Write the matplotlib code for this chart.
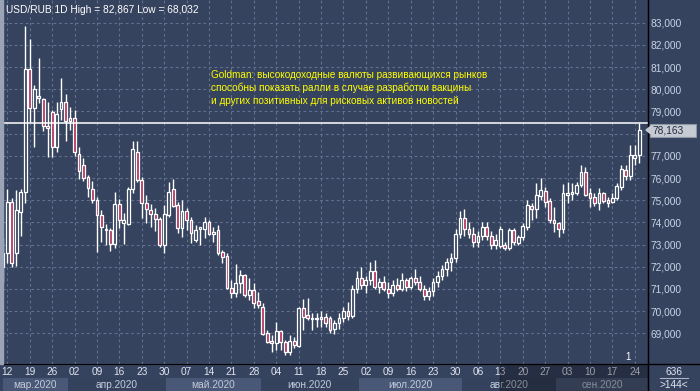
import numpy as np
import pandas as pd
import matplotlib
matplotlib.use('Agg')
import matplotlib.pyplot as plt
from matplotlib.patches import Rectangle, Polygon
from matplotlib.lines import Line2D

# daily USD/RUB candles, 11 Mar - 25 Sep 2020 (one row per week)
opens = [
    72.00, 72.61, 74.91,
    72.61, 74.48, 75.38, 80.91, 79.14,
    79.59, 79.56, 78.34, 78.99, 77.41,
    79.10, 79.41, 78.57, 78.69, 77.07,
    76.60, 76.05, 75.49, 75.01, 74.33,
    73.65, 73.65, 73.03, 74.82, 73.96,
    73.91, 75.51, 77.16, 75.91, 74.86,
    74.56, 74.37, 74.14, 72.98, 74.33,
    75.49, 74.78, 73.73, 74.53, 74.11,
    73.21, 73.69, 73.69, 74.00, 73.46,
    73.66, 72.68, 72.49, 71.03, 70.83,
    71.26, 71.63, 70.73, 70.96, 70.46,
    70.20, 69.00, 68.67, 68.55, 69.11,
    68.62, 68.17, 68.67, 68.45, 70.16,
    69.83, 69.66, 69.70, 69.66, 69.75,
    69.68, 69.20, 69.45, 69.70, 70.00,
    69.80, 71.00, 71.50, 71.20, 71.40,
    71.80, 71.10, 71.30, 71.00, 70.80,
    71.20, 71.00, 71.40, 71.10, 71.50,
    71.30, 71.00, 70.70, 70.90, 71.30,
    71.60, 71.90, 72.20, 72.40, 73.50,
    74.20, 73.70, 73.50, 73.10, 73.40,
    73.80, 73.40, 73.00, 72.95, 73.00,
    72.83, 73.66, 73.09, 73.33, 73.81,
    74.75, 74.59, 75.19, 75.43, 74.96,
    74.11, 73.96, 73.69, 75.25, 75.28,
    75.34, 75.69, 76.29, 75.31, 75.16,
    74.89, 75.31, 75.01, 74.93, 75.09,
    75.61, 76.36, 76.09, 76.90, 77.02,
]
highs = [
    73.30, 75.49, 75.09,
    75.46, 75.51, 82.87, 82.27, 80.19,
    81.42, 79.62, 79.41, 79.07, 79.41,
    80.52, 79.80, 79.21, 79.07, 77.41,
    76.90, 76.14, 75.88, 75.16, 74.57,
    73.93, 73.73, 75.38, 75.05, 74.41,
    75.61, 77.68, 77.68, 76.03, 75.24,
    74.83, 74.64, 74.26, 74.78, 75.83,
    75.94, 74.93, 75.01, 74.64, 74.26,
    73.88, 73.81, 74.26, 74.11, 73.81,
    73.88, 72.76, 72.61, 71.40, 72.13,
    71.86, 71.67, 71.48, 71.26, 70.88,
    70.35, 69.15, 68.93, 69.53, 69.15,
    68.70, 68.93, 68.85, 70.20, 70.54,
    70.58, 69.90, 69.90, 70.00, 69.90,
    69.80, 69.60, 69.90, 70.20, 70.40,
    71.20, 71.80, 72.00, 71.60, 72.20,
    72.30, 71.50, 71.60, 71.30, 71.40,
    71.50, 71.70, 71.50, 71.60, 71.90,
    71.60, 71.20, 71.10, 71.50, 71.80,
    72.10, 72.40, 72.60, 73.70, 74.50,
    74.60, 74.00, 73.80, 73.60, 74.00,
    74.00, 73.60, 73.50, 73.85, 73.10,
    73.73, 73.73, 73.43, 73.96, 75.01,
    74.86, 75.76, 75.99, 75.58, 75.09,
    74.71, 74.03, 75.73, 75.83, 75.76,
    75.83, 76.59, 76.51, 75.54, 75.31,
    75.54, 75.38, 75.16, 75.31, 75.76,
    76.59, 76.59, 77.49, 77.50, 78.49,
]
lows = [
    71.30, 72.16, 72.00,
    72.03, 73.39, 74.86, 78.54, 77.41,
    79.37, 78.13, 76.96, 76.96, 77.19,
    78.62, 77.67, 78.16, 77.00, 75.95,
    75.88, 75.16, 74.89, 72.68, 73.13,
    72.97, 72.73, 72.83, 73.73, 73.03,
    73.88, 75.31, 75.81, 74.19, 73.96,
    73.81, 73.63, 72.90, 72.61, 74.23,
    74.68, 73.54, 73.33, 73.66, 73.09,
    73.13, 72.98, 73.28, 73.43, 73.13,
    72.53, 72.18, 70.99, 70.58, 70.63,
    70.81, 70.65, 70.50, 70.13, 70.13,
    68.93, 68.55, 68.17, 68.25, 68.25,
    68.03, 68.03, 68.33, 68.40, 69.15,
    69.60, 69.15, 69.30, 69.30, 69.30,
    69.00, 68.95, 69.20, 69.50, 69.60,
    69.70, 70.80, 71.00, 70.80, 71.20,
    71.00, 70.80, 70.90, 70.60, 70.70,
    70.90, 70.90, 70.90, 71.00, 71.20,
    70.90, 70.50, 70.50, 70.70, 71.10,
    71.40, 71.60, 71.80, 72.20, 73.30,
    73.40, 73.30, 72.90, 72.90, 73.20,
    73.20, 72.80, 72.80, 72.85, 72.75,
    72.76, 72.98, 72.98, 73.21, 73.66,
    74.11, 74.19, 75.01, 74.71, 73.99,
    73.58, 73.33, 73.51, 74.86, 75.01,
    75.24, 75.58, 75.19, 74.68, 74.74,
    74.56, 74.89, 74.68, 74.86, 75.01,
    75.46, 75.91, 75.91, 76.60, 76.66,
]
closes = [
    72.60, 74.93, 72.18,
    74.56, 75.38, 80.91, 79.14, 80.01,
    79.71, 78.34, 78.27, 77.41, 78.87,
    79.41, 78.57, 78.69, 77.19, 76.30,
    76.02, 75.53, 75.01, 74.33, 73.78,
    73.70, 73.03, 74.82, 74.11, 74.11,
    75.51, 77.29, 75.91, 74.86, 74.59,
    74.37, 74.14, 72.98, 74.37, 75.38,
    74.74, 73.73, 74.53, 74.11, 73.51,
    73.66, 73.78, 74.00, 73.46, 73.58,
    72.61, 72.45, 71.03, 70.83, 71.26,
    71.63, 70.73, 70.96, 70.35, 70.28,
    68.97, 68.62, 68.55, 69.11, 68.62,
    68.17, 68.67, 68.48, 70.16, 69.75,
    69.68, 69.70, 69.66, 69.72, 69.45,
    69.15, 69.45, 69.70, 70.00, 69.80,
    71.00, 71.50, 71.20, 71.40, 71.80,
    71.10, 71.30, 71.00, 70.80, 71.20,
    71.00, 71.40, 71.10, 71.50, 71.30,
    71.00, 70.70, 70.90, 71.30, 71.60,
    71.90, 72.20, 72.40, 73.50, 74.20,
    73.70, 73.50, 73.10, 73.40, 73.80,
    73.40, 73.00, 73.20, 73.70, 72.85,
    73.66, 73.13, 73.36, 73.84, 74.78,
    74.59, 75.24, 75.46, 74.93, 74.11,
    73.99, 73.69, 75.31, 75.31, 75.38,
    75.69, 76.29, 75.24, 75.11, 74.89,
    75.31, 74.98, 74.89, 75.09, 75.64,
    76.39, 76.09, 77.04, 77.05, 78.163,
]

title = 'USD/RUB 1D High = 82,867 Low = 68,032'
note = ['Goldman: высокодоходные валюты развивающихся рынков',
        'способны показать ралли в случае разработки вакцины',
        'и других позитивных для рисковых активов новостей']
month_names = ['мар.2020', 'апр.2020', 'май.2020', 'июн.2020',
               'июл.2020', 'авг.2020', 'сен.2020']
price_levels = list(range(69, 84))
level_line = 78.49

dates = pd.bdate_range('2020-03-11', '2020-09-25')
o, h, l, c = map(np.array, (opens, highs, lows, closes))
idx = np.arange(len(dates))

W, H = 700, 391
BG = '#36435f'
GRID = '#61708e'
RED = '#b4345c'
plt.rcParams['font.family'] = ['Liberation Sans', 'DejaVu Sans']

fig = plt.figure(figsize=(7, 3.91), dpi=100, facecolor=BG)

def fx(x):
    return x / W

def fy(y):
    return 1 - y / H

# main price panel: pixels x 3..648, y 0..364
ax = fig.add_axes([fx(3), fy(364), fx(645), 364 / H], facecolor=BG)
x_left = (3 - 2.82) / 4.482
x_right = (648 - 2.82) / 4.482
ax.set_xlim(x_left, x_right)
ax.set_ylim(83 - (364 - 22.7) / 22.19, 83 + 22.7 / 22.19)

thu = idx[dates.weekday == 3]
ax.set_xticks(thu)
ax.set_xticklabels([f'{d.day:02d}' for d in dates[thu]])
# the 78,000 label sits under the last-price tag, so it is left blank
ax.set_yticks(price_levels)
ax.set_yticklabels(['' if v == 78 else f'{v:.3f}'.replace('.', ',') for v in price_levels])
ax.yaxis.tick_right()
ax.tick_params(axis='x', length=0, pad=2.5, colors='#dfe5ef', labelsize=7.3)
ax.tick_params(axis='y', length=0, pad=2, colors='#c9d3e6', labelsize=7.3)
ax.grid(True, color=GRID, linestyle=(0, (2.5, 2.5)), linewidth=0.8)
ax.set_axisbelow(True)
for s in ['top', 'left']:
    ax.spines[s].set_visible(False)
ax.spines['bottom'].set_color('black')
ax.spines['right'].set_color('black')

# candles
up = c >= o
ax.vlines(idx, l, h, color='white', linewidth=1, zorder=2)
body_lo = np.minimum(o, c)
body_h = np.maximum(np.abs(c - o), 0.04)
ax.bar(idx, body_h, bottom=body_lo, width=0.62,
       color=np.where(up, BG, RED), edgecolor='white', linewidth=0.9, zorder=3)

ax.axhline(level_line, color='white', linewidth=1.1, zorder=4)

ax.text(0.004, 0.985, title, transform=ax.transAxes, color='white',
        fontsize=7.3, va='top', ha='left')
for k, line in enumerate(note):
    fig.text(fx(211), fy(75 + 13 * k), line, color='#ffff00', fontsize=7.2,
             va='center', ha='left')
ax.text(x_right - 4.5, 67.72, '1', color='white', fontsize=7, va='bottom', ha='center')

# month strip under the date labels
axm = fig.add_axes([fx(3), 0, fx(645), 13 / H], sharex=ax, facecolor=BG)
axm.set_ylim(0, 1)
axm.axis('off')
starts = [0] + [i for i in range(1, len(dates)) if dates[i].month != dates[i - 1].month]
edges = [x_left] + [s - 0.5 for s in starts[1:]] + [x_right]
for k, name in enumerate(month_names):
    shade = '#4a5877' if k % 2 == 0 else '#35425e'
    axm.axvspan(edges[k], edges[k + 1], color=shade, lw=0)
    axm.text((edges[k] + edges[k + 1]) / 2, 0.5, name, color='#c3cbdb',
             fontsize=7.3, ha='center', va='center')

# frame bits around the panels
fig.add_artist(Rectangle((0, fy(364)), fx(3), 364 / H, color='#9aa4b6',
                         transform=fig.transFigure))
fig.add_artist(Rectangle((fx(500), 0), fx(148), 27 / H, color='black', alpha=0.3,
                         transform=fig.transFigure, zorder=5))
fig.add_artist(Line2D([fx(648), 1], [fy(364), fy(364)], color='black', lw=1,
                      transform=fig.transFigure))
fig.add_artist(Line2D([fx(648), fx(648)], [0, 1], color='black', lw=1,
                      transform=fig.transFigure))
fig.text(fx(674), fy(372), '636', color='#dfe5ef', fontsize=7.3, ha='center', va='center')
fig.add_artist(Line2D([fx(660), fx(688)], [fy(378), fy(378)], color='#aab3c4', lw=0.8,
                      transform=fig.transFigure))
fig.text(fx(674), fy(384.5), '>144<', color='#dfe5ef', fontsize=7.3, ha='center', va='center')

# last price tag
y_tag = fy(22.7 + (83 - closes[-1]) * 22.19)
fig.add_artist(Rectangle((fx(650), y_tag - 6.5 / H), fx(46), 13 / H, facecolor='#c6cad2',
                         edgecolor='#8d96a6', lw=0.8, transform=fig.transFigure, zorder=6))
fig.add_artist(Polygon([[fx(646), y_tag], [fx(651), y_tag + 4 / H], [fx(651), y_tag - 4 / H]],
                       closed=True, color='#c6cad2', transform=fig.transFigure, zorder=6))
fig.text(fx(653), y_tag, f'{closes[-1]:.3f}'.replace('.', ','), color='#1f2a40',
         fontsize=7.3, ha='left', va='center', zorder=7)

fig.savefig('out.png', dpi=100, facecolor=BG)
